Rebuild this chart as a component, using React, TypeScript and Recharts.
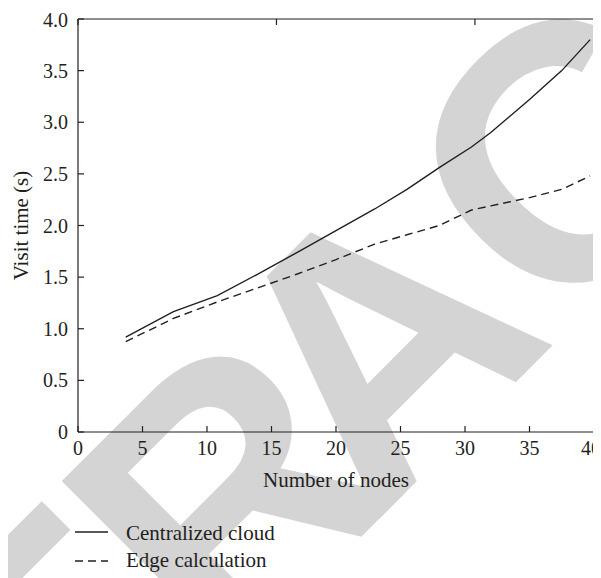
import { LineChart, Line, XAxis, YAxis, Label } from 'recharts'

// Visit time vs. number of nodes, centralized cloud vs. edge calculation.
const nodes = [3.7, 7.4, 10.8, 13.8, 17, 20, 23, 25.5, 28, 30.5, 32, 35, 37.5, 39.7]
const centralizedCloud = [0.92, 1.165, 1.32, 1.52, 1.74, 1.95, 2.16, 2.35, 2.56, 2.76, 2.9, 3.22, 3.5, 3.8]
const edgeCalculation = [0.875, 1.1, 1.26, 1.39, 1.53, 1.67, 1.82, 1.91, 2.0, 2.15, 2.19, 2.27, 2.35, 2.48]

const xTicks = [0, 5, 10, 15, 20, 25, 30, 35, 40]
const yTicks = [0, 0.5, 1, 1.5, 2, 2.5, 3, 3.5, 4]

const seriesNames = ['Centralized cloud', 'Edge calculation']

const data = nodes.map((n, i) => ({
  nodes: n,
  cloud: centralizedCloud[i],
  edge: edgeCalculation[i],
}))

const INK = '#231f20'
const FONT = '"Liberation Serif", "Times New Roman", serif'

function XTitle({ viewBox }: any) {
  return (
    <text
      x={viewBox.x + viewBox.width / 2}
      y={viewBox.y + 48}
      textAnchor="middle"
      dominantBaseline="central"
      fill={INK}
      fontSize={21}
      fontFamily={FONT}
    >
      Number of nodes
    </text>
  )
}

function YTitle({ viewBox }: any) {
  const cx = 13
  const cy = viewBox.y + viewBox.height / 2
  return (
    <text
      x={cx}
      y={cy}
      transform={`rotate(-90 ${cx} ${cy})`}
      textAnchor="middle"
      dominantBaseline="central"
      fill={INK}
      fontSize={21}
      fontFamily={FONT}
    >
      Visit time (s)
    </text>
  )
}

const tickStyle = { fill: INK, fontSize: 20, fontFamily: FONT }

export default function App() {
  return (
    <div style={{ position: 'relative', width: 593, height: 570, fontFamily: FONT }}>
      {/* retraction watermark behind the plot */}
      <svg style={{ position: 'absolute', left: -8, top: -8 }} width={601} height={578}>
        <text
          x={466 - 1075}
          y={432}
          transform="rotate(-45 466 432)"
          textAnchor="start"
          fontSize={365}
          fontWeight="bold"
          fontFamily='"Liberation Sans", Arial, sans-serif'
          fill="#d4d4d4"
        >
          RETR<tspan dx={-50}>ACTED</tspan>
        </text>
      </svg>

      <div style={{ position: 'absolute', left: 0, top: 0 }}>
        <LineChart width={593} height={490} data={data} margin={{ top: 10, right: 6, bottom: 10, left: 0 }}>
          <XAxis
            dataKey="nodes"
            type="number"
            domain={[0, 40]}
            ticks={xTicks}
            height={56}
            tickSize={-6}
            tickMargin={15}
            stroke={INK}
            strokeWidth={1.2}
            tick={tickStyle}
          >
            <Label content={XTitle} />
          </XAxis>
          <XAxis
            xAxisId="top"
            orientation="top"
            type="number"
            domain={[0, 40]}
            ticks={xTicks}
            height={1}
            tickSize={-6}
            tickFormatter={() => ''}
            stroke={INK}
            strokeWidth={1.2}
          />
          <YAxis
            type="number"
            domain={[0, 4]}
            ticks={yTicks}
            width={70}
            tickSize={-6}
            tickMargin={16}
            stroke={INK}
            strokeWidth={1.2}
            tick={tickStyle}
            tickFormatter={(v: number) => (v === 0 ? '0' : v.toFixed(1))}
          >
            <Label content={YTitle} />
          </YAxis>
          <YAxis
            yAxisId="right"
            orientation="right"
            type="number"
            domain={[0, 4]}
            ticks={yTicks}
            width={1}
            tickSize={-6}
            tickFormatter={() => ''}
            stroke={INK}
            strokeWidth={1.2}
          />
          <Line
            dataKey="cloud"
            name={seriesNames[0]}
            stroke={INK}
            strokeWidth={1.4}
            dot={false}
            type="linear"
            isAnimationActive={false}
          />
          <Line
            dataKey="edge"
            name={seriesNames[1]}
            stroke={INK}
            strokeWidth={1.4}
            strokeDasharray="8 5"
            dot={false}
            type="linear"
            isAnimationActive={false}
          />
        </LineChart>
      </div>

      <svg style={{ position: 'absolute', left: 0, top: 505 }} width={300} height={65}>
        {seriesNames.map((name, i) => (
          <g key={name}>
            <line
              x1={67}
              x2={100}
              y1={19 + i * 29}
              y2={19 + i * 29}
              stroke={INK}
              strokeWidth={1.4}
              strokeDasharray={i === 1 ? '8 5' : undefined}
            />
            <text x={118} y={20 + i * 27} dominantBaseline="central" fill={INK} fontSize={21} fontFamily={FONT}>
              {name}
            </text>
          </g>
        ))}
      </svg>
    </div>
  )
}
